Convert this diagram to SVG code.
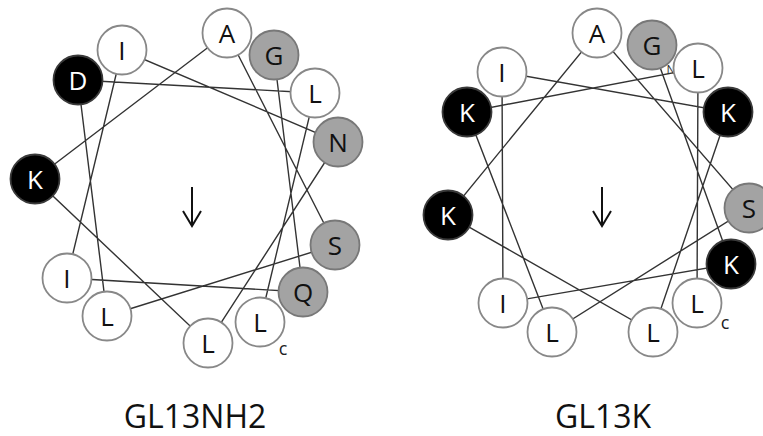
<svg xmlns="http://www.w3.org/2000/svg" width="763" height="436" viewBox="0 0 763 436">
<style>
.bg{fill:#fff}
.ln{stroke:#333;stroke-width:1.4;fill:none}
.w{fill:#fff;stroke:#888;stroke-width:1.8}
.g{fill:#a3a3a3;stroke:#787878;stroke-width:1.8}
.b{fill:#000;stroke:#3a3a3a;stroke-width:1.8}
.t{font-family:"Open Sans","Noto Sans",sans-serif;font-size:26px;text-anchor:middle;dominant-baseline:central;fill:#111}
.tb{fill:#fff}
.c{font-family:"Open Sans","Noto Sans",sans-serif;font-size:18px;fill:#222;text-anchor:middle}
.n{font-family:"Open Sans","Noto Sans",sans-serif;font-size:12px;fill:#333;text-anchor:middle}
.lab{font-family:"Open Sans","Noto Sans",sans-serif;font-size:32px;fill:#111;text-anchor:middle}
.arr{stroke:#111;stroke-width:2;fill:none}
</style>
<rect class="bg" x="0" y="0" width="763" height="436"/>
<g id="connectors">
<polyline class="ln" points="274,55 303,292 67,278 122,50 338,142 208,343 35,179 227,33 335,245 107,316 78,80 315,93 260,322"/>
<polyline class="ln" points="652,45 731,264 503,303 502,72 728,112 653,332 448,215 597,33 749,208 552,332 467,112 698,68 697,303"/>
</g>
<g id="left-wheel">
<g id="l13"><circle class="w" cx="260" cy="322" r="24.5"/><text class="t" x="260" y="322">L</text></g>
<g id="l12"><circle class="w" cx="315" cy="93" r="24.5"/><text class="t" x="315" y="93">L</text></g>
<g id="d11"><circle class="b" cx="78" cy="80" r="24.5"/><text class="t tb" x="78" y="80">D</text></g>
<g id="l10"><circle class="w" cx="107" cy="316" r="24.5"/><text class="t" x="107" y="316">L</text></g>
<g id="s9"><circle class="g" cx="335" cy="245" r="24.5"/><text class="t" x="335" y="245">S</text></g>
<g id="a8"><circle class="w" cx="227" cy="33" r="24.5"/><text class="t" x="227" y="33">A</text></g>
<g id="k7"><circle class="b" cx="35" cy="179" r="24.5"/><text class="t tb" x="35" y="179">K</text></g>
<g id="l6"><circle class="w" cx="208" cy="343" r="24.5"/><text class="t" x="208" y="343">L</text></g>
<g id="n5"><circle class="g" cx="338" cy="142" r="24.5"/><text class="t" x="338" y="142">N</text></g>
<g id="i4"><circle class="w" cx="122" cy="50" r="24.5"/><text class="t" x="122" y="50">I</text></g>
<g id="i3"><circle class="w" cx="67" cy="278" r="24.5"/><text class="t" x="67" y="278">I</text></g>
<g id="q2"><circle class="g" cx="303" cy="292" r="24.5"/><text class="t" x="303" y="292">Q</text></g>
<g id="g1"><circle class="g" cx="274" cy="55" r="24.5"/><text class="t" x="274" y="55">G</text></g>
<text class="c" x="283" y="355">c</text>
<path class="arr" d="M192,187 V226 M183,211 L192,226 L201,211"/>
<text class="lab" x="195" y="428">GL13NH2</text>
</g>
<g id="right-wheel">
<text class="n" x="671" y="74">N</text>
<g id="r-l13"><circle class="w" cx="697" cy="303" r="24.5"/><text class="t" x="697" y="303">L</text></g>
<g id="r-l12"><circle class="w" cx="698" cy="68" r="24.5"/><text class="t" x="698" y="68">L</text></g>
<g id="r-k11"><circle class="b" cx="467" cy="112" r="24.5"/><text class="t tb" x="467" y="112">K</text></g>
<g id="r-l10"><circle class="w" cx="552" cy="332" r="24.5"/><text class="t" x="552" y="332">L</text></g>
<g id="r-s9"><circle class="g" cx="749" cy="208" r="24.5"/><text class="t" x="749" y="208">S</text></g>
<g id="r-a8"><circle class="w" cx="597" cy="33" r="24.5"/><text class="t" x="597" y="33">A</text></g>
<g id="r-k7"><circle class="b" cx="448" cy="215" r="24.5"/><text class="t tb" x="448" y="215">K</text></g>
<g id="r-l6"><circle class="w" cx="653" cy="332" r="24.5"/><text class="t" x="653" y="332">L</text></g>
<g id="r-k5"><circle class="b" cx="728" cy="112" r="24.5"/><text class="t tb" x="728" y="112">K</text></g>
<g id="r-i4"><circle class="w" cx="502" cy="72" r="24.5"/><text class="t" x="502" y="72">I</text></g>
<g id="r-i3"><circle class="w" cx="503" cy="303" r="24.5"/><text class="t" x="503" y="303">I</text></g>
<g id="r-k2"><circle class="b" cx="731" cy="264" r="24.5"/><text class="t tb" x="731" y="264">K</text></g>
<g id="r-g1"><circle class="g" cx="652" cy="45" r="24.5"/><text class="t" x="652" y="45">G</text></g>
<text class="c" x="725" y="329">c</text>
<path class="arr" d="M602,187 V226 M593,211 L602,226 L611,211"/>
<text class="lab" x="603" y="428">GL13K</text>
</g>
</svg>
